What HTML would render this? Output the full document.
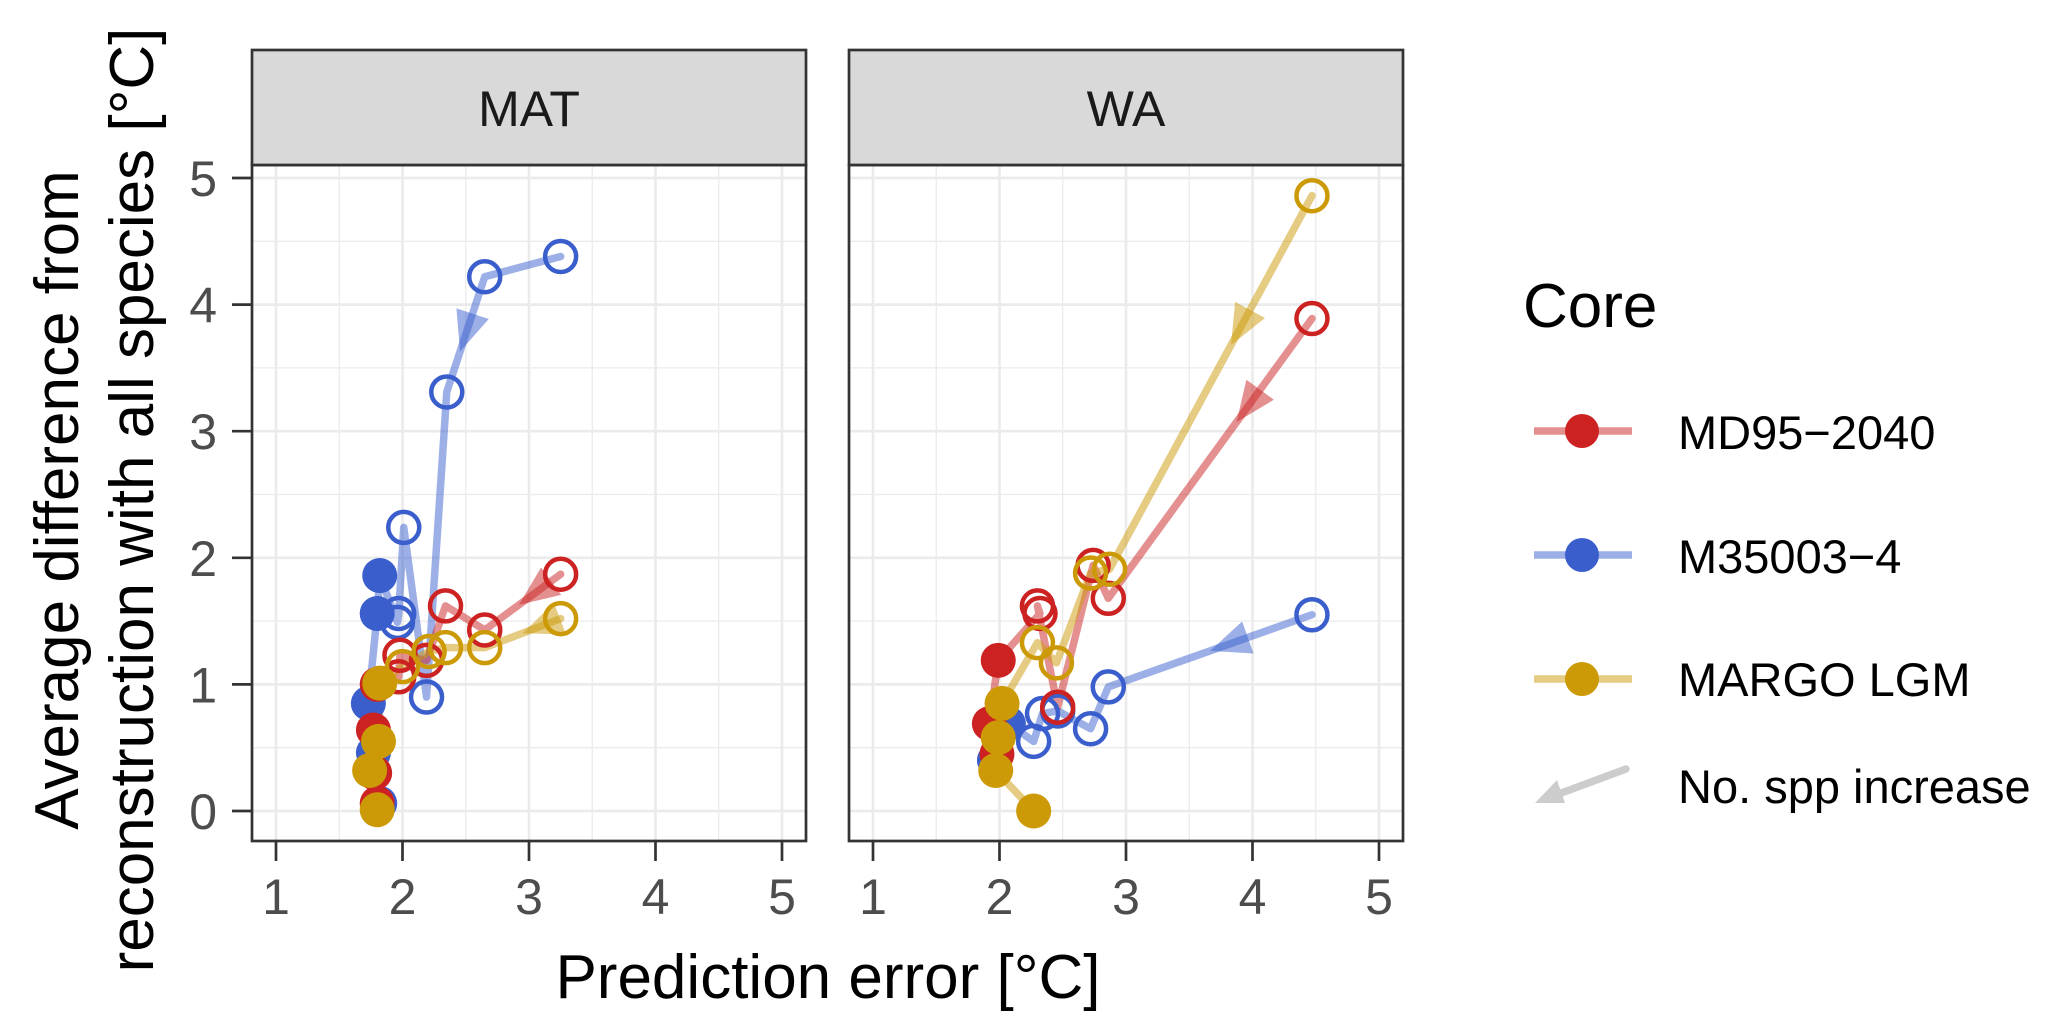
<!DOCTYPE html>
<html><head><meta charset="utf-8"><style>
html,body{margin:0;padding:0;background:#fff}
svg{display:block;font-family:"Liberation Sans",Arial,sans-serif}
</style></head><body>
<svg id="chart" width="2067" height="1031" viewBox="0 0 2067 1031" xmlns="http://www.w3.org/2000/svg">
<g id="panels"></g>
<g id="legend">
  <text x="1523" y="327" font-size="62" fill="#000">Core</text>
  <g>
    <line x1="1534" y1="431" x2="1632" y2="431" stroke="#cc2222" stroke-opacity="0.5" stroke-width="7.5"/>
    <circle cx="1582" cy="431" r="17" fill="#cc2222"/>
    <text x="1678" y="449" font-size="47">MD95−2040</text>
  </g>
  <g>
    <line x1="1534" y1="555" x2="1632" y2="555" stroke="#3a5fcd" stroke-opacity="0.5" stroke-width="7.5"/>
    <circle cx="1582" cy="555" r="17" fill="#3a5fcd"/>
    <text x="1678" y="573" font-size="47">M35003−4</text>
  </g>
  <g>
    <line x1="1534" y1="679" x2="1632" y2="679" stroke="#cc9a06" stroke-opacity="0.5" stroke-width="7.5"/>
    <circle cx="1582" cy="679" r="17" fill="#cc9a06"/>
    <text x="1678" y="696" font-size="47">MARGO LGM</text>
  </g>
  <g>
    <line x1="1626" y1="769" x2="1556" y2="795" stroke="#cccccc" stroke-width="7.5" stroke-linecap="round"/>
    <polygon points="1535,803 1557,780 1565,803" fill="#cccccc"/>
    <text x="1678" y="803" font-size="47">No. spp increase</text>
  </g>
</g>
<text x="828" y="998" font-size="62" text-anchor="middle">Prediction error [°C]</text>
<text transform="translate(78,500) rotate(-90)" font-size="62" text-anchor="middle">Average difference from</text>
<text transform="translate(153,500) rotate(-90)" font-size="62" text-anchor="middle">reconstruction with all species [°C]</text>
</svg>
<script>
const panelNames = ["MAT", "WA"];
const xTicks = [1, 2, 3, 4, 5];
const yTicks = [0, 1, 2, 3, 4, 5];
const seriesNames = ["M35003-4", "MD95-2040", "MARGO LGM"];
// MAT panel series (x = prediction error, y = avg difference)
const matBlueX = [3.25, 2.65, 2.35, 2.19, 2.01, 1.97, 1.96, 1.82, 1.80, 1.73, 1.77, 1.82];
const matBlueY = [4.38, 4.22, 3.31, 0.90, 2.24, 1.56, 1.49, 1.86, 1.56, 0.85, 0.46, 0.06];
const matRedX = [3.25, 2.65, 2.34, 2.19, 1.98, 1.97, 1.80, 1.77, 1.78, 1.80];
const matRedY = [1.87, 1.43, 1.62, 1.19, 1.23, 1.06, 1.00, 0.64, 0.30, 0.06];
const matGoldX = [3.25, 2.65, 2.34, 2.21, 2.00, 1.82, 1.81, 1.74, 1.80];
const matGoldY = [1.52, 1.29, 1.29, 1.26, 1.14, 1.01, 0.55, 0.32, 0.01];
// WA panel series
const waBlueX = [4.47, 2.86, 2.72, 2.46, 2.34, 2.27, 2.07, 1.96];
const waBlueY = [1.55, 0.98, 0.65, 0.79, 0.77, 0.55, 0.69, 0.40];
const waRedX = [4.47, 2.86, 2.74, 2.46, 2.30, 2.32, 1.99, 1.92, 1.98];
const waRedY = [3.89, 1.68, 1.94, 0.82, 1.62, 1.56, 1.19, 0.69, 0.45];
const waGoldX = [4.47, 2.87, 2.72, 2.45, 2.30, 2.02, 1.99, 1.97, 2.27];
const waGoldY = [4.86, 1.91, 1.88, 1.17, 1.33, 0.85, 0.58, 0.32, 0.00];
// number of open (few-species) points at start of each series
const matOpenCount = [7, 6, 5];
const waOpenCount = [6, 6, 5];
// arrows: segment index and fraction along segment where arrowhead sits
const matArrowSeg = [1, 0, 0];
const matArrowFrac = [0.65, 0.55, 0.5];
const waArrowSeg = [0, 0, 0];
const waArrowFrac = [0.5, 0.37, 0.4];

const colors = ["#3a5fcd", "#cc2222", "#cc9a06"];
const NS = "http://www.w3.org/2000/svg";
const panelsG = document.getElementById("panels");
const panelLeft = [252, 849], panelW = 554;
const panelTop = 165, panelBottom = 841, stripTop = 50;
function xScale(p, v){ return panelLeft[p] + 24 + (v - 1) * ((panelW - 48) / 4); }
function yScale(v){ return 811 - v * 126.6; }
function mk(tag, attrs, parent){ const e = document.createElementNS(NS, tag); for (const k in attrs) e.setAttribute(k, attrs[k]); parent.appendChild(e); return e; }

const panelData = [
  {xs:[matBlueX, matRedX, matGoldX], ys:[matBlueY, matRedY, matGoldY], open:matOpenCount, seg:matArrowSeg, frac:matArrowFrac},
  {xs:[waBlueX, waRedX, waGoldX], ys:[waBlueY, waRedY, waGoldY], open:waOpenCount, seg:waArrowSeg, frac:waArrowFrac}
];

panelNames.forEach((name, p) => {
  const g = mk("g", {}, panelsG);
  
  
  const L = panelLeft[p], R = L + panelW;
  mk("rect", {x:L, y:panelTop, width:panelW, height:panelBottom-panelTop, fill:"#fff"}, g);
  for (let v = 0.5; v <= 5.5; v += 1) {
    const x = xScale(p, v); if (x > L && x < R) mk("line", {x1:x, x2:x, y1:panelTop, y2:panelBottom, stroke:"#ebebeb", "stroke-width":1.3}, g);
  }
  for (let v = -0.5; v <= 5.5; v += 1) {
    const y = yScale(v); if (y > panelTop && y < panelBottom) mk("line", {x1:L, x2:R, y1:y, y2:y, stroke:"#ebebeb", "stroke-width":1.3}, g);
  }
  xTicks.forEach(v => { const x = xScale(p, v); mk("line", {x1:x, x2:x, y1:panelTop, y2:panelBottom, stroke:"#ebebeb", "stroke-width":2.7}, g); });
  yTicks.forEach(v => { const y = yScale(v); mk("line", {x1:L, x2:R, y1:y, y2:y, stroke:"#ebebeb", "stroke-width":2.7}, g); });
  const d = panelData[p];
  d.xs.forEach((xs, s) => {
    const pts = xs.map((x, i) => xScale(p, x) + "," + yScale(d.ys[s][i])).join(" ");
    const pl = mk("polyline", {points:pts, fill:"none", stroke:colors[s], "stroke-opacity":0.5, "stroke-width":7.5, "stroke-linejoin":"round", "stroke-linecap":"round"}, g);
    
    
    const k = d.seg[s], f = d.frac[s];
    const x0 = xScale(p, xs[k]), y0 = yScale(d.ys[s][k]), x1 = xScale(p, xs[k+1]), y1 = yScale(d.ys[s][k+1]);
    const hx = x0 + (x1 - x0) * f, hy = y0 + (y1 - y0) * f;
    const len = Math.hypot(x1 - x0, y1 - y0), ux = (x1 - x0) / len, uy = (y1 - y0) / len;
    const bx = hx - ux * 40, by = hy - uy * 40;
    const ah = mk("polygon", {points:`${hx},${hy} ${bx - uy*17},${by + ux*17} ${bx + uy*17},${by - ux*17}`, fill:colors[s], "fill-opacity":0.5}, g);
    
    
  });
  d.xs.forEach((xs, s) => {
    xs.forEach((x, i) => {
      const isOpen = i < d.open[s];
      const c = mk("circle", {cx:xScale(p, x), cy:yScale(d.ys[s][i]), r:isOpen ? 15.5 : 17.5, fill:isOpen ? "none" : colors[s], stroke:colors[s], "stroke-width":isOpen ? 4.5 : 0}, g);
      
      
    });
  });
  mk("rect", {x:L, y:panelTop, width:panelW, height:panelBottom-panelTop, fill:"none", stroke:"#333", "stroke-width":2.7}, g);
  const strip = mk("rect", {x:L, y:stripTop, width:panelW, height:panelTop-stripTop, fill:"#d9d9d9", stroke:"#333", "stroke-width":2.7}, g);
  
  
  const st = mk("text", {x:L + panelW/2, y:126, "font-size":50, "text-anchor":"middle", fill:"#1a1a1a"}, g);
  st.textContent = name;
  
  
  xTicks.forEach(v => {
    const x = xScale(p, v);
    mk("line", {x1:x, x2:x, y1:panelBottom, y2:861, stroke:"#333", "stroke-width":2.7}, g);
    const t = mk("text", {x:x, y:914, "font-size":50, "text-anchor":"middle", fill:"#4d4d4d"}, g);
    t.textContent = v;
    
    
  });
  if (p === 0) {
    yTicks.forEach(v => {
      const y = yScale(v);
      mk("line", {x1:232, x2:L, y1:y, y2:y, stroke:"#333", "stroke-width":2.7}, g);
      const t = mk("text", {x:217, y:y + 18, "font-size":50, "text-anchor":"end", fill:"#4d4d4d"}, g);
      t.textContent = v;
      
      
    });
  }
});
</script>
</body></html>
